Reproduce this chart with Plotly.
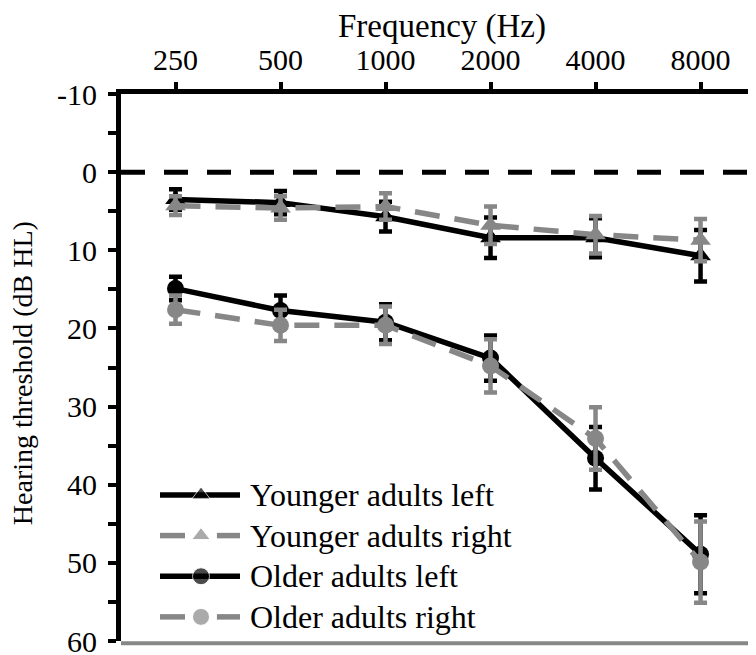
import plotly.graph_objects as go

freqs = ["250", "500", "1000", "2000", "4000", "8000"]

younger_left = [3.5, 3.9, 5.7, 8.4, 8.4, 10.7]
younger_left_err = [1.3, 1.5, 1.9, 2.6, 2.5, 3.3]
younger_right = [4.3, 4.6, 4.4, 6.8, 8.0, 8.7]
younger_right_err = [1.2, 1.5, 1.7, 2.4, 2.4, 2.7]
older_left = [14.9, 17.7, 19.2, 23.8, 36.6, 48.9]
older_left_err = [1.5, 1.9, 2.3, 2.9, 4.0, 5.0]
older_right = [17.6, 19.6, 19.6, 24.8, 34.1, 49.9]
older_right_err = [1.8, 2.0, 2.4, 3.4, 4.0, 5.2]

y_ticks = [-10, -5, 0, 5, 10, 15, 20, 25, 30, 35, 40, 45, 50, 55, 60]
y_labels = [str(v) if v % 10 == 0 else "" for v in y_ticks]

BLACK = "#000000"
GRAY = "#878787"
FONT = "Liberation Serif"
DASH = "25px,15px"

series = [
    ("Younger adults left", younger_left, younger_left_err, BLACK, "solid", "triangle-up", 18),
    ("Younger adults right", younger_right, younger_right_err, GRAY, DASH, "triangle-up", 18),
    ("Older adults left", older_left, older_left_err, BLACK, "solid", "circle", 17),
    ("Older adults right", older_right, older_right_err, GRAY, DASH, "circle", 17),
]

fig = go.Figure()
for name, vals, errs, color, dash, sym, size in series:
    fig.add_trace(go.Scatter(
        x=list(range(len(freqs))), y=vals, name=name, mode="lines+markers",
        line=dict(color=color, width=5.5, dash=dash),
        marker=dict(symbol=sym, size=size, color=color),
        error_y=dict(type="data", array=errs, visible=True, color=color,
                     thickness=4.5, width=6.5),
        showlegend=False,
    ))

# ---- hand-drawn legend (glyph line + marker + label), in paper fractions ----
leg_y0, leg_dy = 0.267, 0.0743
line_x0, line_x1, mark_x, text_x = 0.0618, 0.1886, 0.1268, 0.2010
gap_l, gap_r = 0.1014, 0.152
shapes = []
annotations = []
leg_mx, leg_my, leg_sym, leg_col = [], [], [], []
for i, (name, vals, errs, color, dash, sym, size) in enumerate(series):
    yy = leg_y0 - i * leg_dy
    if dash == "solid":
        shapes.append(dict(type="line", xref="paper", yref="paper", x0=line_x0, x1=line_x1,
                           y0=yy, y1=yy, line=dict(color=color, width=5.5), layer="below"))
    else:
        for a, b in ((line_x0, gap_l), (gap_r, line_x1)):
            shapes.append(dict(type="line", xref="paper", yref="paper", x0=a, x1=b,
                               y0=yy, y1=yy, line=dict(color=color, width=5.5), layer="below"))
    leg_mx.append(mark_x)
    leg_my.append(yy)
    leg_sym.append(sym)
    leg_col.append(color)
    annotations.append(dict(text=name, xref="paper", yref="paper", x=text_x, y=yy,
                            xanchor="left", yanchor="middle", showarrow=False,
                            font=dict(size=32, family=FONT, color="black")))

fig.add_trace(go.Scatter(
    x=leg_mx, y=leg_my, mode="markers", xaxis="x2", yaxis="y2", showlegend=False,
    marker=dict(symbol=leg_sym, color=leg_col, size=[16, 16, 17, 17]),
    hoverinfo="skip",
))

# axis titles
annotations.append(dict(text="Frequency (Hz)", xref="paper", yref="paper", x=0.509, y=1.1225,
                        xanchor="center", yanchor="middle", showarrow=False,
                        font=dict(size=33, family=FONT, color="black")))
annotations.append(dict(text="Hearing threshold (dB HL)", xref="paper", yref="paper",
                        x=-0.155, y=0.49, xanchor="center", yanchor="middle",
                        textangle=-90, showarrow=False,
                        font=dict(size=28, family=FONT, color="black")))

shapes += [
    dict(type="line", xref="paper", yref="y", x0=0, x1=1, y0=0, y1=0,
         line=dict(color="black", width=5, dash="24px,19px")),
    dict(type="line", xref="paper", yref="paper", x0=1.008, x1=1.008, y0=0, y1=1,
         line=dict(color=GRAY, width=4)),
    dict(type="line", xref="paper", yref="paper", x0=0, x1=1.01, y0=-0.004, y1=-0.004,
         line=dict(color=GRAY, width=4)),
]

fig.update_layout(
    width=748, height=647,
    margin=dict(l=113, r=4, t=86, b=14, autoexpand=False),
    paper_bgcolor="white", plot_bgcolor="white",
    font=dict(family=FONT, size=30, color="black"),
    showlegend=False,
    xaxis=dict(
        side="top", range=[-0.519, 5.49],
        tickvals=list(range(len(freqs))), ticktext=freqs,
        showgrid=False, zeroline=False, automargin=False,
        showline=True, linecolor="black", linewidth=5,
        ticks="outside", ticklen=7, tickwidth=4, tickcolor="black",
        tickfont=dict(size=30, family=FONT),
        ticklabelstandoff=0,
    ),
    yaxis=dict(
        range=[60, -10],
        tickvals=y_ticks, ticktext=y_labels,
        showgrid=False, zeroline=False, automargin=False,
        showline=True, linecolor="black", linewidth=5,
        ticks="outside", ticklen=8, tickwidth=4, tickcolor="black",
        tickfont=dict(size=30, family=FONT),
        ticklabelstandoff=5,
        ticklabeloverflow="allow",
    ),
    xaxis2=dict(overlaying="x", range=[0, 1], visible=False, fixedrange=True),
    yaxis2=dict(overlaying="y", range=[0, 1], visible=False, fixedrange=True),
    shapes=shapes,
    annotations=annotations,
)

fig.write_html("out.html")
